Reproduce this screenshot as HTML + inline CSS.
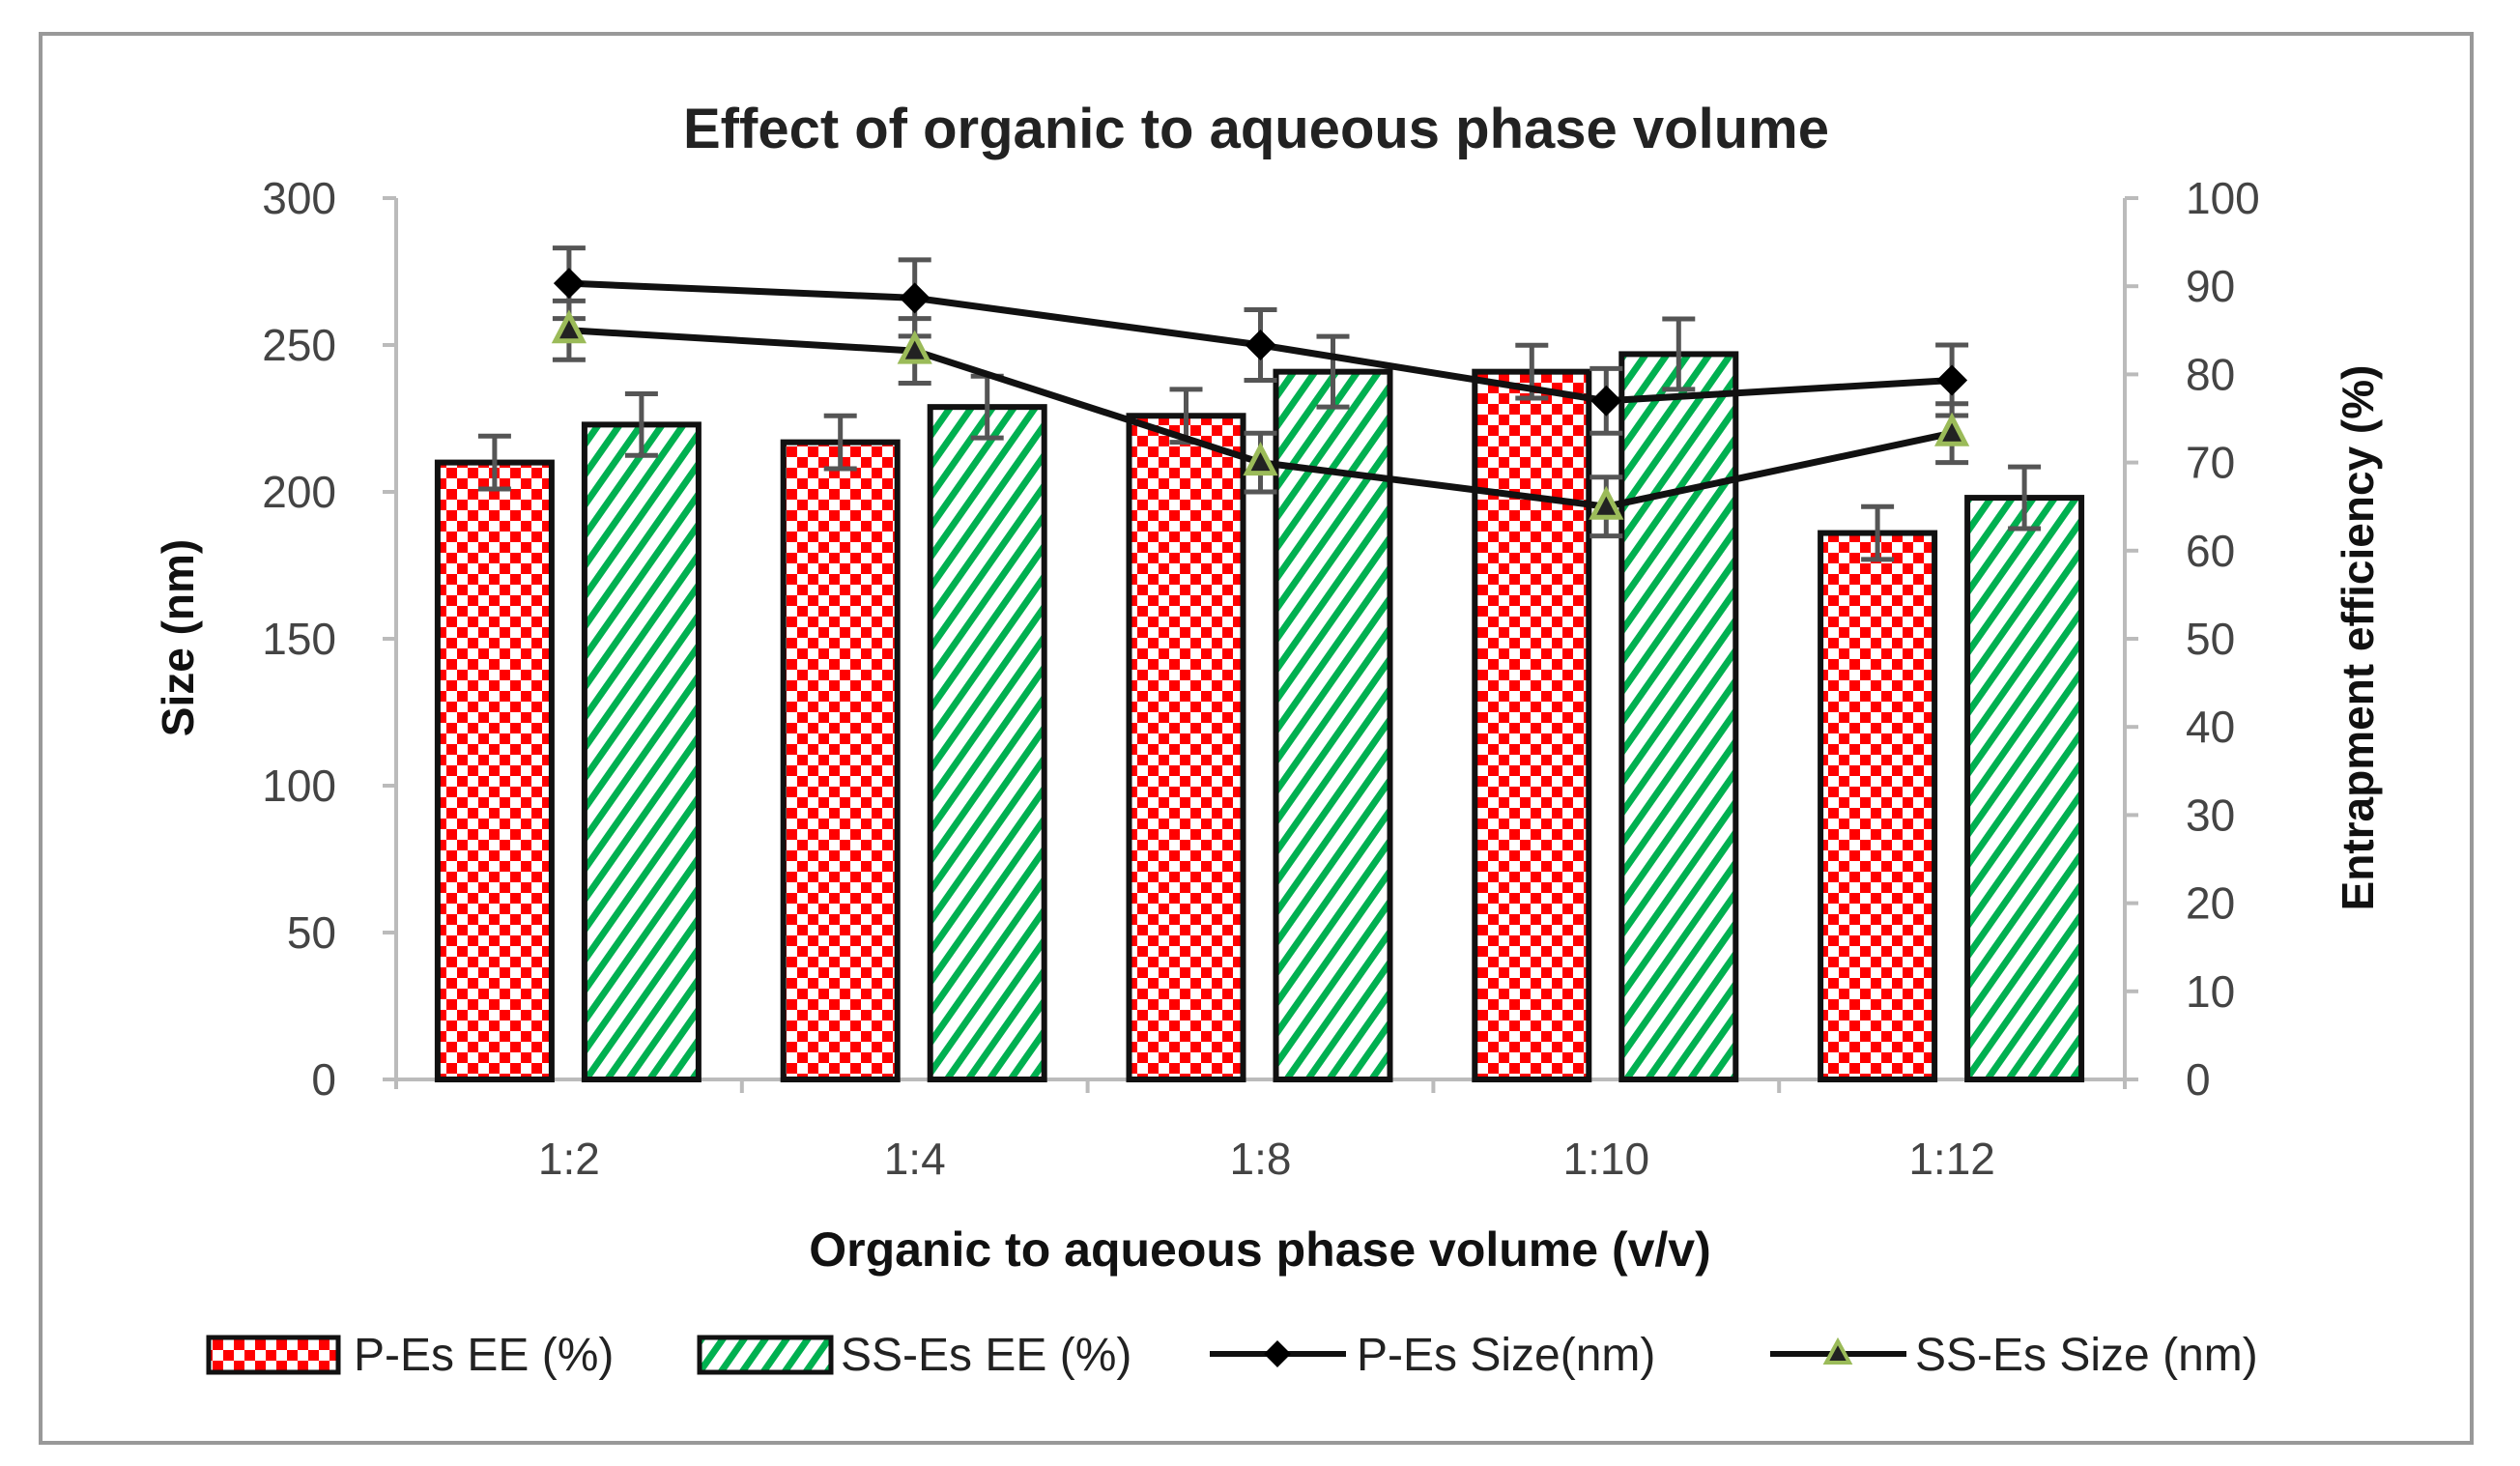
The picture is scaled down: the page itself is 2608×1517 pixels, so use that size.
<!DOCTYPE html>
<html><head><meta charset="utf-8"><style>
html,body{margin:0;padding:0;background:#fff;}
svg{display:block;font-family:"Liberation Sans",sans-serif;}
</style></head><body>
<svg id="chart" width="2608" height="1517" viewBox="0 0 2608 1517" xmlns="http://www.w3.org/2000/svg">
<defs>
<pattern id="checker" width="22" height="22" patternUnits="userSpaceOnUse">
<rect width="22" height="22" fill="#fff"/>
<rect width="11" height="11" fill="#f00"/>
<rect x="11" y="11" width="11" height="11" fill="#f00"/>
</pattern>
<pattern id="stripes" width="18" height="18" patternUnits="userSpaceOnUse" patternTransform="rotate(35)">
<rect width="18" height="18" fill="#fff"/>
<rect width="7" height="18" fill="#00b050"/>
</pattern>
</defs>
<rect x="42" y="35" width="2516" height="1458" fill="#fff" stroke="#999" stroke-width="4"/>
<text x="1300" y="153" text-anchor="middle" font-size="58" font-weight="bold" fill="#222">Effect of organic to aqueous phase volume</text>
<g id="plot"></g>
<text transform="translate(200,660) rotate(-90)" text-anchor="middle" font-size="46" font-weight="bold" fill="#111">Size (nm)</text>
<text transform="translate(2456,660) rotate(-90)" text-anchor="middle" font-size="46" font-weight="bold" fill="#111">Entrapment efficiency (%)</text>
<text x="1304" y="1310" text-anchor="middle" font-size="50" font-weight="bold" fill="#111">Organic to aqueous phase volume (v/v)</text>
<g>
<rect x="216" y="1384" width="134" height="36" fill="url(#checker)" stroke="#111" stroke-width="5"/>
<text x="366" y="1418" font-size="48" fill="#222">P-Es EE (%)</text>
<rect x="724" y="1384" width="136" height="36" fill="url(#stripes)" stroke="#111" stroke-width="5"/>
<text x="870" y="1418" font-size="48" fill="#222">SS-Es EE (%)</text>
<line x1="1252" y1="1401" x2="1393" y2="1401" stroke="#111" stroke-width="6"/>
<path d="M1322 1387 L1336 1401 L1322 1415 L1308 1401Z" fill="#000"/>
<text x="1404" y="1418" font-size="48" fill="#222">P-Es Size(nm)</text>
<line x1="1832" y1="1401" x2="1973" y2="1401" stroke="#111" stroke-width="6"/>
<path d="M1902 1388 L1914 1410 L1890 1410Z" fill="#222" stroke="#9bbb59" stroke-width="4"/>
<text x="1982" y="1418" font-size="48" fill="#222">SS-Es Size (nm)</text>
</g>
</svg>
<script>
const categories = ["1:2","1:4","1:8","1:10","1:12"];
const pesEE = [70, 72.3, 75.3, 80.3, 62];
const pesEEErr = [3, 3, 3, 3, 3];
const ssesEE = [74.3, 76.3, 80.3, 82.3, 66];
const ssesEEErr = [3.5, 3.5, 4, 4, 3.5];
const pesSize = [271, 266, 250, 231, 238];
const pesSizeErr = [12, 13, 12, 11, 12];
const ssesSize = [255, 248, 210, 195, 220];
const ssesSizeErr = [10, 11, 10, 10, 10];
const leftTicks = [0,50,100,150,200,250,300];
const rightTicks = [0,10,20,30,40,50,60,70,80,90,100];

const NS = "http://www.w3.org/2000/svg";
const plot = document.getElementById("plot");
const X0 = 410, X1 = 2199, YT = 205, YB = 1117;
const band = (X1 - X0) / categories.length;
const xc = i => X0 + band * (i + 0.5);
const yL = v => YB - (v / 300) * (YB - YT);
const yR = v => YB - (v / 100) * (YB - YT);
function mk(tag, attrs, parent) {
  const e = document.createElementNS(NS, tag);
  for (const k in attrs) e.setAttribute(k, attrs[k]);
  (parent || plot).appendChild(e);
  return e;
}
// axes
let ax = mk("line", {x1:X0,y1:YT,x2:X0,y2:YB+10,stroke:"#bbb","stroke-width":4});


ax = mk("line", {x1:X1,y1:YT,x2:X1,y2:YB+10,stroke:"#bbb","stroke-width":4});


ax = mk("line", {x1:X0-14,y1:YB,x2:X1+14,y2:YB,stroke:"#bbb","stroke-width":4});


leftTicks.forEach(t => {
  mk("line", {x1:X0-14,y1:yL(t),x2:X0,y2:yL(t),stroke:"#bbb","stroke-width":4});
  const tx = mk("text", {x:348,y:yL(t)+16,"text-anchor":"end","font-size":46,fill:"#444"});
  tx.textContent = t;
  
  
});
rightTicks.forEach(t => {
  mk("line", {x1:X1,y1:yR(t),x2:X1+14,y2:yR(t),stroke:"#bbb","stroke-width":4});
  const tx = mk("text", {x:2262,y:yR(t)+16,"text-anchor":"start","font-size":46,fill:"#444"});
  tx.textContent = t;
  
  
});
for (let i = 1; i < categories.length; i++) {
  mk("line", {x1:X0+band*i,y1:YB,x2:X0+band*i,y2:YB+14,stroke:"#bbb","stroke-width":4});
}
categories.forEach((c, i) => {
  const tx = mk("text", {x:xc(i),y:1215,"text-anchor":"middle","font-size":46,fill:"#444"});
  tx.textContent = c;
  
  
});
function errBar(x, yv, yerrTop, yerrBot, name) {
  const g = mk("g", {stroke:"#555","stroke-width":5});
  
  
  mk("line", {x1:x,y1:yerrTop,x2:x,y2:yerrBot}, g);
  mk("line", {x1:x-17,y1:yerrTop,x2:x+17,y2:yerrTop}, g);
  mk("line", {x1:x-17,y1:yerrBot,x2:x+17,y2:yerrBot}, g);
}
// bars
const BW = 118;
categories.forEach((c, i) => {
  const xr = xc(i) - 77, xg = xc(i) + 75;
  const r = mk("rect", {x:xr-BW/2,y:yR(pesEE[i]),width:BW,height:YB-yR(pesEE[i]),fill:"url(#checker)",stroke:"#111","stroke-width":6});
  
  
  const g = mk("rect", {x:xg-BW/2,y:yR(ssesEE[i]),width:BW,height:YB-yR(ssesEE[i]),fill:"url(#stripes)",stroke:"#111","stroke-width":6});
  
  
  errBar(xr, 0, yR(pesEE[i]+pesEEErr[i]), yR(pesEE[i]-pesEEErr[i]), 'error-bar-pes-ee');
  errBar(xg, 0, yR(ssesEE[i]+ssesEEErr[i]), yR(ssesEE[i]-ssesEEErr[i]), 'error-bar-sses-ee');
});
// lines
function series(vals, errs, name, marker) {
  const pts = vals.map((v, i) => xc(i) + "," + yL(v)).join(" ");
  const pl = mk("polyline", {points:pts,fill:"none",stroke:"#111","stroke-width":7,"stroke-linejoin":"round"});
  
  
  vals.forEach((v, i) => {
    errBar(xc(i), 0, yL(v+errs[i]), yL(v-errs[i]), 'error-bar-' + name);
    const x = xc(i), y = yL(v);
    let m;
    if (marker === "diamond") m = mk("path", {d:`M${x} ${y-16} L${x+16} ${y} L${x} ${y+16} L${x-16} ${y}Z`,fill:"#000"});
    else m = mk("path", {d:`M${x} ${y-16} L${x+14} ${y+11} L${x-14} ${y+11}Z`,fill:"#222",stroke:"#9bbb59","stroke-width":5});
    
    
  });
}
series(pesSize, pesSizeErr, 'pes-size', "diamond");
series(ssesSize, ssesSizeErr, 'sses-size', "triangle");
</script>
</body></html>
